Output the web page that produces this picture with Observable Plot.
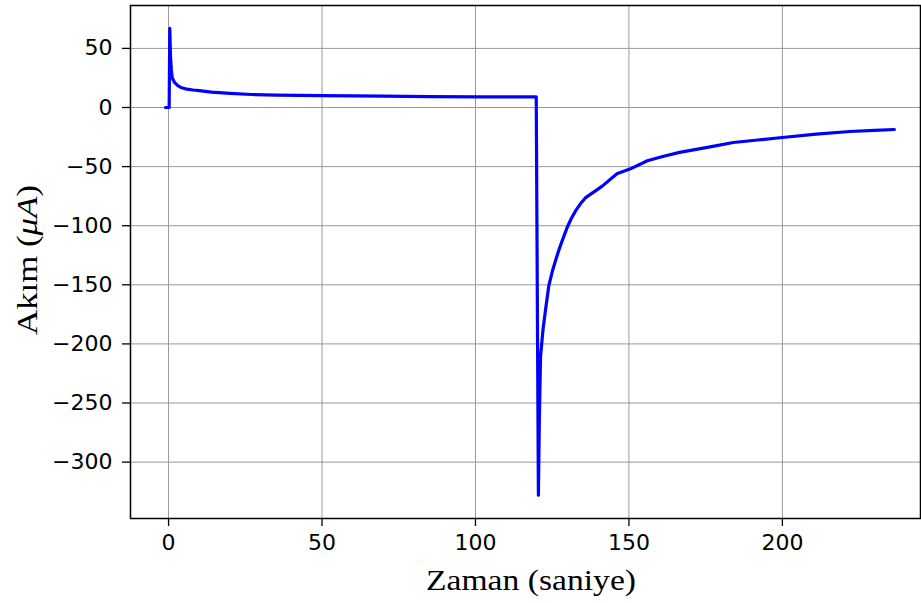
<!DOCTYPE html>
<html><head><meta charset="utf-8">
<script src="https://cdn.jsdelivr.net/npm/d3@7"></script>
<script src="https://cdn.jsdelivr.net/npm/@observablehq/plot@0.6"></script>
<style>body{margin:0;background:#fff}</style>
</head><body><div id="chart"></div>
<script>
const times = [-1, 0.2, 0.4, 0.6, 0.9, 1.2, 2, 3, 4, 6, 8, 10, 14, 20, 27, 35, 50, 70, 85, 100, 119.6, 119.8, 120.5, 120.8, 121.2, 122, 122.8, 123.9, 125, 126.1, 127, 128, 129.9, 131.2, 132.6, 134.2, 135.8, 141.3, 146.1, 150.5, 156, 161, 166.5, 176, 184, 192, 200, 211, 222, 230, 236.5];
const current = [0, 0, 67, 45, 32, 25, 21, 18.5, 17, 15.5, 14.8, 14.3, 13, 12, 11, 10.5, 10, 9.6, 9.2, 9, 9, 9, -328, -265, -211, -188, -171.7, -150.6, -139, -129.4, -122, -114.5, -101.3, -94, -87.5, -81.5, -76.5, -66.5, -56, -51.9, -45, -41.5, -38, -33.5, -29.6, -27.5, -25.4, -22.5, -20.3, -19.4, -18.6];
const xTicks = [0, 50, 100, 150, 200];
const yTicks = [50, 0, -50, -100, -150, -200, -250, -300];

const data = times.map((t, i) => ({t, v: current[i]}));
const fmt = d => d < 0 ? "\u2212" + Math.abs(d) : String(d);

const chart = Plot.plot({
  width: 921, height: 603,
  marginLeft: 130, marginRight: 1, marginTop: 5, marginBottom: 85,
  style: {fontFamily: "DejaVu Sans", fontSize: "22px", color: "#000", background: "#fff"},
  x: {domain: [-12.4, 245], label: null},
  y: {domain: [-347.7, 86.3], label: null},
  marks: [
    Plot.gridX(xTicks, {stroke: "#999", strokeOpacity: 1, strokeWidth: 1}),
    Plot.gridY(yTicks, {stroke: "#999", strokeOpacity: 1, strokeWidth: 1}),
    Plot.line(data, {x: "t", y: "v", stroke: "#0000ff", strokeWidth: 3.2, strokeLinejoin: "round"}),
    Plot.frame({stroke: "#000", strokeWidth: 1.5}),
    Plot.axisX(xTicks, {tickFormat: fmt, tickSize: 8, tickPadding: 8, label: null, fontSize: 22}),
    Plot.axisY(yTicks, {tickFormat: fmt, tickSize: 8, tickPadding: 10, label: null, fontSize: 22})
  ]
});
document.getElementById("chart").appendChild(chart);

const svg = d3.select(chart);
svg.selectAll('g[aria-label*="axis"] text').style("font-size", "22px").style("font-family", "DejaVu Sans").attr("fill", "#000");
svg.selectAll('g[aria-label$="tick"]').attr("stroke", "#000").attr("stroke-width", 1.3);
svg.append("text")
  .attr("x", 531).attr("y", 590)
  .attr("text-anchor", "middle")
  .attr("textLength", 210).attr("lengthAdjust", "spacingAndGlyphs")
  .style("font-family", "Liberation Serif, DejaVu Serif, serif")
  .style("font-size", "30px").attr("fill", "#000")
  .text("Zaman (saniye)");
const yl = svg.append("text")
  .attr("transform", "translate(37,260) rotate(-90)")
  .attr("text-anchor", "middle")
  .attr("textLength", 150).attr("lengthAdjust", "spacingAndGlyphs")
  .style("font-family", "Liberation Serif, DejaVu Serif, serif")
  .style("font-size", "30px").attr("fill", "#000");
yl.append("tspan").text("Akım (");
yl.append("tspan").attr("font-style", "italic").text("μA");
yl.append("tspan").text(")");
</script></body></html>
